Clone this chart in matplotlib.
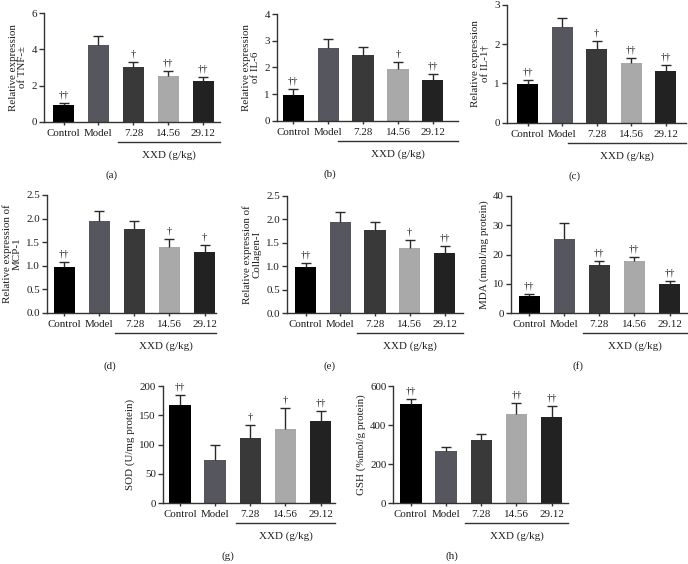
import matplotlib
matplotlib.use('Agg')
import matplotlib.pyplot as plt
import numpy as np

plt.rcParams['font.family'] = ['Liberation Serif', 'DejaVu Serif']

categories = ['Control', 'Model', '7.28', '14.56', '29.12']
bar_colors = ['#000000', '#56565e', '#393939', '#a9a9a9', '#222222']
group_label = 'XXD (g/kg)'

# (a) TNF
tnf_mean = [0.95, 4.22, 3.00, 2.53, 2.25]
tnf_err = [0.10, 0.50, 0.33, 0.30, 0.24]
tnf_sig = ['††', '', '†', '††', '††']
# (b) IL-6
il6_mean = [0.98, 2.73, 2.47, 1.93, 1.53]
il6_err = [0.20, 0.33, 0.30, 0.26, 0.23]
il6_sig = ['††', '', '', '†', '††']
# (c) IL-1
il1_mean = [0.98, 2.44, 1.89, 1.51, 1.32]
il1_err = [0.10, 0.24, 0.19, 0.15, 0.15]
il1_sig = ['††', '', '†', '††', '††']
# (d) MCP-1
mcp_mean = [0.98, 1.94, 1.77, 1.39, 1.28]
mcp_err = [0.10, 0.21, 0.17, 0.18, 0.15]
mcp_sig = ['††', '', '', '†', '†']
# (e) Collagen-I
col_mean = [0.98, 1.94, 1.77, 1.39, 1.28]
col_err = [0.10, 0.21, 0.17, 0.18, 0.15]
col_sig = ['††', '', '', '†', '††']
# (f) MDA
mda_mean = [5.9, 25.2, 16.5, 18.0, 10.0]
mda_err = [0.7, 5.5, 1.3, 1.3, 0.9]
mda_sig = ['††', '', '††', '††', '††']
# (g) SOD
sod_mean = [168, 74, 111, 127, 140]
sod_err = [17, 26, 22, 36, 18]
sod_sig = ['††', '', '†', '†', '††']
# (h) GSH
gsh_mean = [508, 269, 324, 457, 443]
gsh_err = [24, 21, 29, 58, 56]
gsh_sig = ['††', '', '', '††', '††']

ylabels = ['Relative expression\nof TNF-±', 'Relative expression\nof IL-6',
           'Relative expression\nof IL-1†', 'Relative expression of\nMCP-1',
           'Relative expression of\nCollagen-I', 'MDA (nmol/mg protein)',
           'SOD (U/mg protein)', 'GSH (%mol/g protein)']
panel_letters = ['(a)', '(b)', '(c)', '(d)', '(e)', '(f)', '(g)', '(h)']
yticks = [[0, 2, 4, 6], [0, 1, 2, 3, 4], [0, 1, 2, 3],
          [0.0, 0.5, 1.0, 1.5, 2.0, 2.5], [0.0, 0.5, 1.0, 1.5, 2.0, 2.5],
          [0, 10, 20, 30, 40], [0, 50, 100, 150, 200], [0, 200, 400, 600]]

means = [tnf_mean, il6_mean, il1_mean, mcp_mean, col_mean, mda_mean, sod_mean, gsh_mean]
errs = [tnf_err, il6_err, il1_err, mcp_err, col_err, mda_err, sod_err, gsh_err]
sigs = [tnf_sig, il6_sig, il1_sig, mcp_sig, col_sig, mda_sig, sod_sig, gsh_sig]

W, H = 688, 564
fig = plt.figure(figsize=(W / 100, H / 100), dpi=100)

# layout in pixels: axis left, first bar centre, last bar centre, axis right, top, bottom,
# underline start, panel-letter x
layout = [
    (44, 63.5, 203.3, 220, 13.3, 121.7, 118, 112),
    (277, 293.3, 432.8, 458, 14, 120.7, 338, 330),
    (507, 527.5, 665.8, 686, 5, 122.7, 568, 575),
    (46.7, 64.3, 204.5, 216, 195, 312.7, 115, 110),
    (286.7, 305.5, 444.5, 463, 196, 313.3, 357, 330),
    (510.7, 529.2, 669.5, 687, 196, 313.3, 583, 578),
    (162.7, 180, 320.5, 335, 386, 503.3, 236, 228),
    (393.3, 410.8, 551.7, 568, 386, 503.3, 465, 452),
]

fs = 7.9
text_color = '#1e1e1e'
x = np.arange(len(categories))

for i, (L, c0, c4, R, T, B, ul, lx) in enumerate(layout):
    ax = fig.add_axes([L / W, 1 - B / H, (R - L) / W, (B - T) / H])
    unit = (c4 - c0) / 4.0
    xmin = -(c0 - L) / unit
    xmax = 4 + (R - c4) / unit
    ax.set_xlim(xmin, xmax)
    ymax = yticks[i][-1]
    ax.set_ylim(0, ymax)
    m = np.array(means[i], dtype=float)
    e = np.array(errs[i], dtype=float)
    ax.bar(x, m, width=0.61, color=bar_colors, zorder=2)
    eb = ax.errorbar(x, m, yerr=[np.zeros_like(e), e], fmt='none', ecolor='#2a2a2a',
                     elinewidth=1.0, capsize=3.6, capthick=1.0, zorder=3)
    caps = eb[1]
    if len(caps) == 2:
        caps[0].set_visible(False)
    for xi, mi, ei, s in zip(x, m, e, sigs[i]):
        if s:
            ax.annotate(s, (xi, mi + ei), xytext=(0, 2.5), textcoords='offset points',
                        ha='center', va='bottom', fontsize=7.5, color=text_color)
    for sp in ['top', 'right']:
        ax.spines[sp].set_visible(False)
    for sp in ['left', 'bottom']:
        ax.spines[sp].set_linewidth(1.0)
        ax.spines[sp].set_color('#333333')
    ax.set_yticks(yticks[i])
    ax.set_xticks(x)
    ax.set_xticklabels(categories)
    ax.tick_params(axis='y', length=3.5, width=1.0, colors='#333333', labelsize=fs,
                   labelcolor=text_color, pad=1.5)
    ax.tick_params(axis='x', length=2.5, width=1.0, colors='#333333', labelsize=fs,
                   labelcolor=text_color, pad=2.5)
    ax.set_ylabel(ylabels[i], fontsize=fs, color=text_color, labelpad=3, linespacing=1.1)

    # underline for XXD group and its label
    trans = ax.get_xaxis_transform()
    ux0 = xmin + (ul - L) / unit
    uy = -20.0 / (B - T)
    ax.plot([ux0, xmax], [uy, uy], transform=trans, color='#333333', lw=1.0,
            clip_on=False)
    ax.text((ux0 + xmax) / 2, -33.0 / (B - T), group_label, transform=trans,
            ha='center', va='center', fontsize=fs, color=text_color)
    fig.text(lx / W, 1 - (B + 53) / H, panel_letters[i], ha='center', va='center',
             fontsize=fs, color=text_color)

fig.savefig('out.png', dpi=100)
